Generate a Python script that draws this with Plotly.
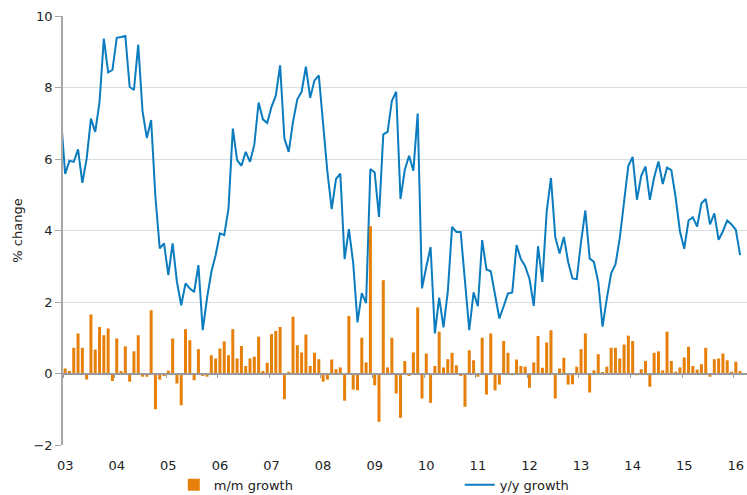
import plotly.graph_objects as go

# Monthly data, Jan 2003 .. Feb 2016 (m/m); y/y also includes Dec 2002 (clipped at the axis)
mm_growth = [
    0.14, 0.07, 0.72, 1.12, 0.72, -0.17, 1.65, 0.67, 1.3, 1.07, 1.26, -0.21,
    0.98, 0.07, 0.76, -0.23, 0.62, 1.07, -0.09, -0.09, 1.77, -1.0, -0.17, -0.07,
    0.08, 0.98, -0.28, -0.89, 1.24, 0.93, -0.19, 0.68, -0.07, -0.09, 0.51, 0.42,
    0.7, 0.9, 0.51, 1.24, 0.42, 0.77, 0.21, 0.42, 0.47, 1.03, 0.07, 0.3,
    1.1, 1.19, 1.3, -0.72, 0.05, 1.59, 0.79, 0.59, 1.09, 0.21, 0.58, 0.4,
    -0.23, -0.17, 0.39, 0.12, 0.17, -0.76, 1.61, -0.45, -0.47, 1.0, 0.31, 4.12,
    -0.33, -1.35, 2.61, 0.17, 1.0, -0.56, -1.24, 0.35, -0.07, 0.59, 1.85, -0.7,
    0.56, -0.82, 0.21, 1.17, 0.17, 0.4, 0.58, 0.23, -0.07, -0.93, 0.65, 0.37,
    -0.09, 1.0, -0.59, 1.12, -0.47, -0.31, 0.91, 0.58, -0.05, 0.39, 0.21, 0.19,
    -0.4, 0.31, 1.05, 0.16, 0.87, 1.21, -0.7, 0.14, 0.44, -0.31, -0.3, 0.19,
    0.68, 1.12, -0.53, 0.09, 0.54, 0.02, 0.19, 0.72, 0.72, 0.42, 0.81, 1.06,
    0.91, -0.05, 0.12, 0.35, -0.37, 0.58, 0.62, 0.09, 1.17, 0.35, 0.05, 0.17,
    0.45, 0.75, 0.21, 0.11, 0.26, 0.72, -0.09, 0.4, 0.42, 0.56, 0.37, 0.05,
    0.33, 0.07,
]

yy_growth = [
    7.2,
    5.58, 5.95, 5.92, 6.27, 5.33, 6.01, 7.13, 6.76, 7.6, 9.37, 8.42, 8.49,
    9.39, 9.41, 9.44, 8.02, 7.93, 9.2, 7.34, 6.59, 7.09, 4.93, 3.5, 3.64,
    2.75, 3.64, 2.56, 1.91, 2.52, 2.38, 2.28, 3.03, 1.21, 2.10, 2.84, 3.31,
    3.92, 3.87, 4.62, 6.85, 5.97, 5.81, 6.2, 5.92, 6.4, 7.58, 7.11, 7.01,
    7.46, 7.77, 8.62, 6.57, 6.2, 7.04, 7.67, 7.88, 8.58, 7.71, 8.2, 8.34,
    6.95, 5.64, 4.6, 5.44, 5.59, 3.2, 4.04, 3.09, 1.43, 2.25, 1.97, 5.72,
    5.62, 4.38, 6.69, 6.76, 7.63, 7.88, 4.88, 5.69, 6.09, 5.67, 7.27, 2.38,
    2.98, 3.54, 1.12, 2.12, 1.29, 2.28, 4.1, 3.96, 3.96, 2.47, 1.21, 2.27,
    1.88, 3.73, 2.91, 2.86, 2.19, 1.54, 1.88, 2.24, 2.27, 3.59, 3.2, 3.0,
    2.65, 1.89, 3.56, 2.56, 4.52, 5.47, 3.82, 3.36, 3.82, 3.12, 2.66, 2.64,
    3.68, 4.56, 3.22, 3.12, 2.56, 1.31, 2.1, 2.8, 3.05, 3.78, 4.8, 5.81,
    6.06, 4.86, 5.53, 5.79, 4.86, 5.48, 5.93, 5.3, 5.76, 5.69, 4.93, 3.98,
    3.49, 4.28, 4.37, 4.11, 4.76, 4.88, 4.17, 4.48, 3.74, 3.98, 4.28, 4.17,
    4.02, 3.31,
]

year_labels = ["03", "04", "05", "06", "07", "08", "09", "10",
               "11", "12", "13", "14", "15", "16"]

# month index: 0 = Jan 2003
mm_x = list(range(len(mm_growth)))
yy_x = list(range(-1, len(yy_growth) - 1))
label_pos = [12 * k for k in range(len(year_labels))]
year_bounds = [12 * k - 0.5 for k in range(len(year_labels))]

BLUE = "#0a7cbf"
ORANGE = "#e6800a"
FONT = "DejaVu Sans"
TXT = "#222222"
XR = [-0.5, 158.6]

fig = go.Figure()
fig.add_trace(go.Bar(
    x=mm_x, y=mm_growth, name="m/m growth",
    marker=dict(color=ORANGE, line=dict(width=0)),
    xaxis="x2", legend="legend",
))
fig.add_trace(go.Scatter(
    x=yy_x, y=yy_growth, name="y/y growth", mode="lines",
    line=dict(color=BLUE, width=2), legend="legend2",
))

leg_common = dict(orientation="h", yanchor="middle", xanchor="left",
                  font=dict(family=FONT, size=13, color=TXT), itemwidth=30,
                  bgcolor="rgba(0,0,0,0)")

fig.update_layout(
    width=747, height=495,
    margin=dict(l=63, r=0, t=16, b=50, autoexpand=False),
    paper_bgcolor="white", plot_bgcolor="white",
    font=dict(family=FONT, size=13, color=TXT),
    bargap=0.3,
    showlegend=True,
    legend=dict(x=0.162, y=-0.093, **leg_common),
    legend2=dict(x=0.580, y=-0.093, **leg_common),
    xaxis=dict(
        range=XR, tickmode="array", tickvals=label_pos, ticktext=year_labels,
        showgrid=False, zeroline=False, showline=False,
        ticks="outside", ticklen=8, tickcolor="rgba(0,0,0,0)",
        tickfont=dict(family=FONT, size=13, color=TXT),
        automargin=False,
    ),
    xaxis2=dict(
        range=XR, overlaying="x", anchor="free", position=2 / 12, side="bottom",
        showgrid=False, zeroline=False, showline=True, linecolor="#9a9a9a", linewidth=1.5,
        ticks="outside", tickvals=year_bounds, ticklen=4, tickcolor="#9a9a9a",
        showticklabels=False, automargin=False,
    ),
    yaxis=dict(
        range=[-2, 10], dtick=2, tick0=0,
        showgrid=True, gridcolor="#d6dde3", gridwidth=1.2,
        zeroline=False,
        showline=True, linecolor="#a6a6a6", linewidth=1.5,
        ticks="outside", ticklen=6, tickcolor="#a6a6a6",
        tickfont=dict(family=FONT, size=13, color=TXT),
        title=dict(text="% change", font=dict(family=FONT, size=13, color=TXT), standoff=8),
        automargin=False,
    ),
)

fig.write_html(
    "out.html",
    config={"displayModeBar": False},
    post_script="document.body.style.margin='0';document.body.style.overflow='hidden';",
)
